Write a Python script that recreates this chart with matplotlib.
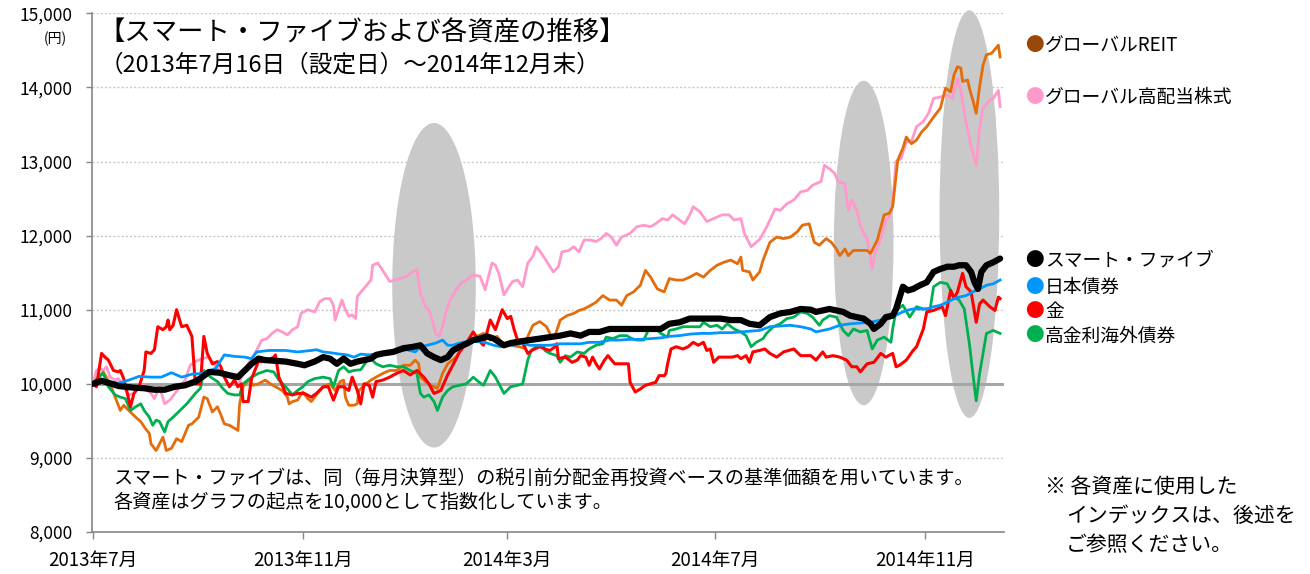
import matplotlib
matplotlib.use("Agg")
import matplotlib.pyplot as plt
import matplotlib.dates as mdates
from matplotlib.patches import Ellipse
import pandas as pd

plt.rcParams['font.family'] = ['Noto Sans CJK JP', 'DejaVu Sans']

# ---- data: index values (start = 10,000), x = days since launch 2013-07-16 ----
start = pd.Timestamp("2013-07-16")   # 設定日

smart_day = [0,5,11,15,23,30,36,42,48,54,60,64,68,74,79,85,89,93,97,101,107,113,120,124,130,135,139,143,147,151,
             155,159,163,166,170,176,182,188,192,196,200,204,208,211,215,219,223,227,231,235,241,245,250,256,262,268,274,280,286,291,
             297,303,309,315,321,327,333,338,344,350,356,362,368,374,380,385,391,397,403,409,415,421,424,428,432,436,440,444,448,452,
             456,458,462,465,469,471,475,478,481,485,489,493,497,501,505,508,512,515,517,519,521,524,528,532]
smart = [10000,10040,10000,9970,9950,9940,9920,9920,9960,9980,10030,10090,10160,10150,10120,10090,10180,10270,10340,10320,
         10310,10300,10270,10250,10300,10360,10340,10270,10340,10270,10300,10320,10340,10390,10410,10430,10480,10500,10520,10410,
         10360,10320,10360,10450,10500,10540,10590,10610,10640,10610,10520,10550,10570,10590,10610,10630,10650,10680,10650,10700,
         10700,10740,10740,10740,10740,10740,10740,10810,10830,10880,10880,10880,10880,10860,10860,10810,10790,10900,10950,10970,
         11010,11000,10970,10990,11010,10990,10970,10920,10900,10880,10810,10740,10810,10900,10920,11010,11310,11260,11280,11330,
         11370,11510,11550,11580,11580,11600,11600,11510,11370,11280,11510,11600,11640,11690]

jbond_day = [0,7,15,21,27,34,40,46,52,58,64,72,77,83,89,93,96,103,113,120,128,131,135,139,145,149,153,157,162,166,
             172,178,184,189,192,196,201,205,208,211,215,219,223,227,231,235,239,243,247,252,256,262,268,274,280,286,291,297,303,309,
             315,321,327,333,338,344,350,356,362,368,374,380,385,391,397,403,409,415,421,424,428,432,438,444,450,456,462,467,473,477,
             481,485,489,493,497,501,505,508,512,516,520,524,528,532]
jbond = [10000,10030,10010,10050,10100,10090,10090,10150,10090,10130,10140,10210,10390,10370,10360,10340,10430,10450,10450,10430,
         10450,10460,10430,10420,10400,10390,10360,10400,10390,10400,10410,10430,10460,10430,10500,10520,10550,10590,10520,10520,
         10550,10570,10570,10570,10550,10520,10500,10520,10520,10550,10520,10520,10520,10540,10540,10540,10560,10560,10590,10590,
         10600,10600,10610,10620,10640,10650,10670,10680,10680,10690,10690,10700,10710,10720,10770,10780,10790,10770,10740,10700,
         10720,10740,10790,10810,10820,10830,10860,10880,10950,10990,11010,11010,11010,11040,11060,11100,11150,11170,11190,11240,
         11280,11330,11350,11400]

gold_day = [0,2,5,7,9,12,15,16,18,22,24,27,30,31,34,36,38,41,43,44,45,47,49,52,55,58,60,63,65,67,
            70,73,75,77,80,83,85,87,88,91,93,97,101,106,107,109,113,117,120,124,128,131,135,138,141,144,147,150,152,155,
            157,159,162,164,166,170,174,178,182,186,190,194,197,200,204,208,211,215,219,223,226,229,233,236,240,243,245,247,249,252,
            255,258,262,265,268,271,272,273,277,281,284,286,289,291,293,295,297,300,302,306,310,314,315,318,321,324,327,330,332,335,
            336,337,339,342,346,349,352,355,358,360,362,364,367,371,375,378,380,383,385,387,391,394,397,401,405,411,415,421,424,428,
            430,434,438,442,445,448,450,454,458,462,465,469,471,473,477,481,483,487,489,493,498,500,503,505,507,510,512,515,518,520,
            522,526,529,531,532]
gold = [10000,9960,10410,10360,10320,10180,10160,10180,10070,9690,9870,9960,10180,10430,10410,10460,10770,10730,10770,10860,
        10730,10790,11000,10770,10790,10640,10000,10000,10640,10410,10270,10300,10230,10090,9960,10050,9960,10000,9760,9760,
        10070,10300,10300,10360,10390,10090,9870,9850,9870,9870,9820,9870,9960,9960,9780,9960,9960,9910,10090,9910,
        9730,10000,9980,9820,10030,10050,10090,10140,10180,10120,10180,10090,10000,9870,9910,10120,10250,10430,10550,10700,
        10590,10520,10860,10730,11000,10880,10910,10730,10590,10550,10410,10460,10500,10470,10450,10500,10540,10340,10360,10290,
        10320,10380,10360,10250,10360,10270,10200,10320,10380,10270,10270,10270,10020,9890,9930,9980,10000,10020,10110,10110,
        10140,10270,10470,10500,10470,10500,10560,10520,10560,10450,10470,10290,10360,10360,10360,10380,10340,10380,10290,10430,
        10450,10470,10410,10360,10430,10470,10380,10380,10320,10430,10360,10380,10360,10320,10230,10230,10160,10270,10290,10410,
        10360,10410,10230,10250,10320,10450,10500,10740,10970,10990,11040,10920,11260,11150,11240,11490,11310,11240,10830,11080,
        11130,11040,10990,11170,11150]

hybond_day = [0,3,6,9,13,16,19,22,25,28,30,33,35,37,39,42,44,47,51,55,60,63,65,69,73,76,79,83,86,88,
              93,97,102,106,109,113,117,120,123,126,130,135,139,141,144,147,150,153,157,161,163,166,170,174,178,182,186,190,192,194,
              197,200,202,205,208,211,215,219,223,226,229,233,236,239,241,245,249,252,255,257,260,264,265,268,272,274,277,280,284,288,
              291,295,299,301,305,309,313,316,319,323,326,330,333,337,338,342,346,352,356,358,362,366,369,372,376,380,383,386,389,393,
              395,399,403,407,411,415,419,422,426,428,432,436,440,443,446,450,454,457,460,464,468,469,471,475,479,483,487,491,493,497,
              501,505,508,511,514,517,518,520,524,528,532]
hybond = [10000,10090,10140,9960,9850,9820,9800,9640,9690,9730,9640,9550,9440,9510,9490,9350,9490,9550,9640,9730,
          9870,9940,10180,10090,10030,9940,9870,9850,9850,10000,10090,10140,10180,10160,10050,9960,9850,9910,9960,10030,
          10070,10090,10070,9960,10180,10230,10160,10180,10190,10320,10340,10270,10230,10250,10230,10230,10180,10140,9870,9820,
          9850,9760,9640,9820,9910,9960,9980,10000,10090,10030,9980,10180,10090,9960,9870,9960,9980,10000,10320,10450,
          10500,10520,10450,10410,10380,10290,10380,10360,10430,10410,10470,10520,10540,10630,10610,10650,10650,10610,10590,10590,
          10740,10740,10680,10630,10720,10740,10770,10770,10770,10830,10770,10790,10740,10810,10740,10700,10650,10500,10560,10610,
          10680,10770,10810,10880,10900,10970,10950,10900,10790,10860,10920,10900,10720,10650,10740,10700,10720,10470,10590,10630,
          10560,10740,10990,11060,10900,11040,11010,11010,11310,11370,11350,11170,11130,11010,10540,9950,9770,10140,10680,10720,
          10680]

reit_day = [0,3,6,10,13,16,18,21,25,28,30,33,34,37,39,41,43,46,49,52,56,58,62,65,67,70,73,75,77,80,
            83,85,86,88,91,94,97,101,104,107,111,114,115,117,120,123,126,128,131,135,139,142,145,147,148,150,153,155,156,159,
            163,166,170,174,178,182,186,189,191,192,195,198,202,205,208,213,217,221,225,229,233,237,241,245,250,253,255,258,262,266,
            269,271,274,278,282,285,288,292,295,299,303,307,310,313,317,321,324,327,331,335,338,342,346,350,354,358,362,366,370,374,
            378,380,381,385,387,391,393,397,401,405,409,413,416,420,423,426,430,433,436,438,441,443,446,450,454,456,460,464,467,469,
            472,475,477,480,483,486,489,493,497,500,503,505,507,509,510,513,514,516,518,520,522,524,527,531,532]
reit = [10000,10070,10160,10000,9820,9640,9710,9640,9550,9490,9420,9330,9190,9100,9190,9280,9100,9130,9260,9220,
        9440,9460,9550,9820,9800,9620,9690,9580,9460,9440,9400,9370,9730,9960,10050,9980,10000,10050,10000,9960,
        9910,9820,9730,9760,9780,9890,9800,9760,9850,9960,10000,9910,10030,10050,9820,9710,9710,9730,9910,9980,
        10050,10090,10140,10180,10180,10250,10250,10320,10270,10090,10030,9980,9940,10140,10270,10360,10500,10590,10640,10680,
        10590,10640,10520,10520,10500,10480,10640,10790,10840,10770,10630,10650,10860,10920,10950,10990,11010,11060,11100,11190,
        11130,11130,11060,11190,11240,11330,11530,11440,11280,11240,11420,11400,11400,11440,11490,11440,11530,11600,11640,11670,
        11620,11710,11530,11510,11400,11510,11670,11910,11980,11960,11980,12050,12140,12160,11910,11870,11960,11910,11820,11730,
        11820,11730,11800,11800,11800,11760,11940,12280,12300,12390,13020,13180,13330,13240,13290,13400,13470,13600,13720,13990,
        13940,14170,14280,14260,14080,14100,13990,13830,13650,14010,14300,14440,14460,14570,14410]

hdiv_day = [0,2,4,6,8,10,13,15,18,21,24,27,30,32,34,36,39,42,45,48,51,54,57,60,64,68,71,74,77,81,
            85,87,91,95,99,102,105,108,111,114,117,120,122,126,130,133,136,139,141,142,144,146,148,150,152,154,155,159,163,164,
            167,171,174,177,180,184,187,190,192,195,197,199,201,203,205,207,209,213,216,219,223,227,230,234,236,238,241,244,246,249,
            252,255,258,260,263,265,268,270,273,275,279,282,285,288,292,295,298,301,304,307,310,315,319,323,327,330,334,337,340,344,
            347,350,352,356,360,364,369,373,376,380,382,386,388,391,395,400,403,407,411,415,419,422,424,427,429,432,435,437,441,443,
            445,448,450,452,454,456,457,459,461,463,465,467,469,471,474,477,480,483,487,490,493,497,501,504,507,509,511,513,515,518,
            520,522,526,528,531,532]
hdiv = [10000,10180,10210,10180,10230,10090,10050,10070,9960,9850,9870,9960,9980,9910,9870,9800,9960,9730,9780,9870,
        9960,10050,10250,10300,10340,10360,10270,10180,10140,10090,9960,10090,10270,10410,10590,10610,10680,10730,10700,10660,
        10730,10770,10950,11000,10970,11110,11150,11150,11060,10860,11000,11130,11000,10910,10930,10880,11180,11290,11400,11600,
        11630,11490,11380,11400,11420,11450,11510,11540,11220,11040,11000,10860,10680,10640,10770,10970,11110,11270,11360,11400,
        11470,11450,11270,11630,11600,11490,11200,11310,11380,11400,11310,11630,11720,11850,11760,11690,11580,11510,11580,11780,
        11800,11850,11780,11940,11940,11920,11960,12030,11980,11870,11980,12030,12120,12140,12120,12160,12230,12210,12280,12210,
        12160,12280,12390,12320,12190,12230,12280,12280,12210,12230,12030,11850,11890,11950,12110,12360,12340,12430,12480,12590,
        12610,12680,12700,12730,12950,12900,12840,12730,12700,12340,12480,12340,12140,12030,11960,11710,11550,11800,11890,12030,
        12210,12250,12430,13000,13040,13270,13270,13470,13540,13650,13850,13870,13900,13850,14120,13960,13650,13420,13200,12950,
        13450,13720,13830,13850,13960,13740]

# highlighted periods (grey ellipses): centre day, centre value, width (days), height
hl_day = [200, 452, 514]
hl_val = [11330, 11900, 12290]
hl_w = [49, 35, 35]
hl_h = [4380, 4380, 5500]

x_tick_dates = ["2013-07-16", "2013-11-16", "2014-03-16", "2014-07-16", "2014-11-16"]
x_tick_labels = ["2013年7月", "2013年11月", "2014年3月", "2014年7月", "2014年11月"]
y_ticks = [8000, 9000, 10000, 11000, 12000, 13000, 14000, 15000]

legend_labels = ["グローバルREIT", "グローバル高配当株式", "スマート・ファイブ", "日本債券", "金", "高金利海外債券"]
legend_colors = ["#984807", "#FF99CC", "black", "#0096FF", "#FF0000", "#00B050"]
legend_y = [46, 97, 260, 287, 312, 336]

def to_dates(days):
    return [start + pd.Timedelta(days=d) for d in days]

W, H = 1310, 574
fig = plt.figure(figsize=(W/100, H/100), dpi=100)
ax = fig.add_axes([92/W, 42/H, (1004-92)/W, (532-13.3)/H])

x0 = mdates.date2num(start)
for d, v, w, h in zip(hl_day, hl_val, hl_w, hl_h):
    ax.add_patch(Ellipse((x0+d, v), w, h, facecolor="#c9c9c9", edgecolor="none", zorder=1.5, clip_on=False))

for y in y_ticks[1:]:
    if y == 10000:
        ax.axhline(y, color="#a6a6a6", lw=2.2, zorder=1.6)
    else:
        ax.axhline(y, color="#c8c8c8", lw=1, ls=(0, (1.5, 1.5)), zorder=1)

ax.plot(to_dates(hdiv_day), hdiv, color="#FF99CC", lw=2.0, zorder=3)
ax.plot(to_dates(reit_day), reit, color="#E46C0A", lw=2.0, zorder=3)
ax.plot(to_dates(hybond_day), hybond, color="#00B050", lw=2.0, zorder=3)
ax.plot(to_dates(gold_day), gold, color="#FF0000", lw=2.2, zorder=3)
ax.plot(to_dates(jbond_day), jbond, color="#0096FF", lw=2.0, zorder=3)
ax.plot(to_dates(smart_day), smart, color="black", lw=4.5, zorder=4, solid_capstyle="round")

ax.set_xlim(x0-0.6, x0+534.3)
ax.set_ylim(8000, 15000)
ax.set_xticks([mdates.date2num(pd.Timestamp(d)) for d in x_tick_dates])
ax.set_xticklabels(x_tick_labels, fontsize=13.5)
ax.set_yticks(y_ticks)
ax.set_yticklabels([f"{v:,}" for v in y_ticks], fontsize=12.5)
ax.tick_params(axis="x", direction="out", length=5, width=1, color="#868686", pad=8)
ax.tick_params(axis="y", direction="out", length=4, width=1, color="#868686", pad=10)
for s in ["top", "right"]:
    ax.spines[s].set_visible(False)
for s in ["left", "bottom"]:
    ax.spines[s].set_color("#868686"); ax.spines[s].set_linewidth(1.2)

def ft(x, y, s, **kw):
    fig.text(x/W, 1-y/H, s, va="center", **kw)

ft(55, 39, "(円)", fontsize=10, ha="center")
ft(98, 33, "【スマート・ファイブおよび各資産の推移】", fontsize=19)
ft(100, 65, "（2013年7月16日（設定日）～2014年12月末）", fontsize=17)
ft(113, 478, "スマート・ファイブは、同（毎月決算型）の税引前分配金再投資ベースの基準価額を用いています。", fontsize=13.8)
ft(113, 503, "各資産はグラフの起点を10,000として指数化しています。", fontsize=13.8)
ft(1045, 487, "※ 各資産に使用した", fontsize=15)
ft(1066, 516, "インデックスは、後述を", fontsize=15)
ft(1066, 545, "ご参照ください。", fontsize=15)

for lab, col, y in zip(legend_labels, legend_colors, legend_y):
    ft(1025, y, "●", fontsize=13.5, color=col)
    ft(1045, y, lab, fontsize=13.5)

fig.savefig("out.png", dpi=100)
